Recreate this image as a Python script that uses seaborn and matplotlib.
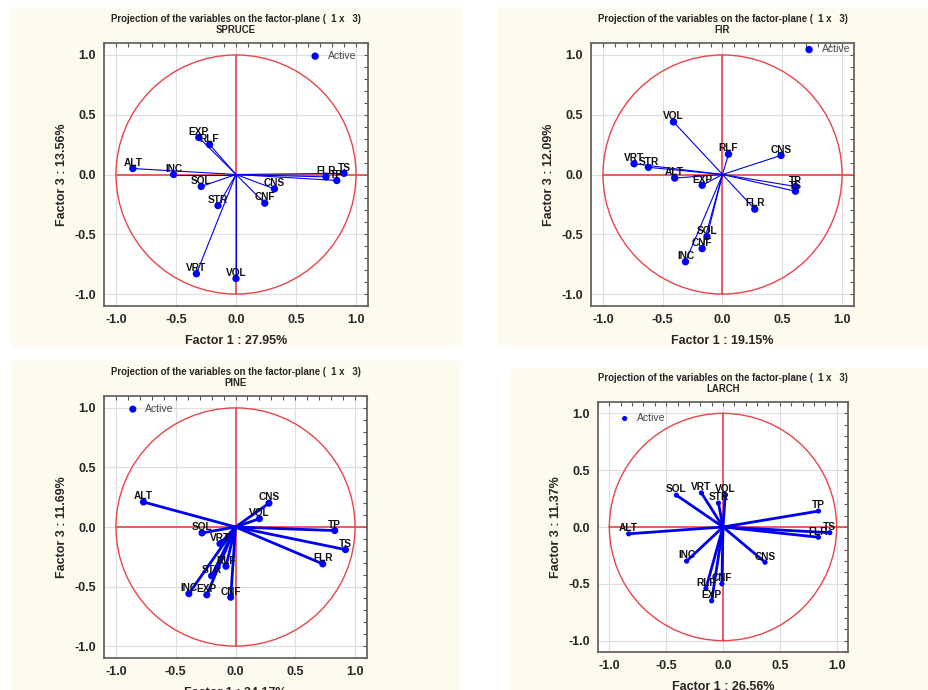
import pandas as pd
import seaborn as sns
import matplotlib.pyplot as plt
from matplotlib.patches import Rectangle, Circle
from matplotlib.ticker import MultipleLocator

# variables (same order in every panel)
variables = ['ALT', 'INC', 'EXP', 'RLF', 'SOL', 'STR', 'VRT', 'VOL', 'CNS', 'CNF', 'FLR', 'TP', 'TS']

# factor coordinates
spruce_f1 = [-0.86, -0.52, -0.31, -0.22, -0.29, -0.15, -0.33, 0.00, 0.32, 0.24, 0.75, 0.84, 0.90]
spruce_f3 = [0.05, 0.00, 0.31, 0.25, -0.10, -0.26, -0.83, -0.87, -0.12, -0.24, -0.02, -0.05, 0.01]

fir_f1 = [-0.40, -0.31, -0.17, 0.05, -0.13, -0.62, -0.74, -0.41, 0.49, -0.17, 0.27, 0.61, 0.61]
fir_f3 = [-0.03, -0.73, -0.09, 0.17, -0.52, 0.06, 0.09, 0.44, 0.16, -0.62, -0.29, -0.10, -0.14]

pine_f1 = [-0.77, -0.39, -0.24, -0.08, -0.28, -0.20, -0.13, 0.20, 0.28, -0.04, 0.73, 0.83, 0.92]
pine_f3 = [0.21, -0.56, -0.57, -0.33, -0.05, -0.41, -0.14, 0.07, 0.20, -0.59, -0.31, -0.03, -0.19]

larch_f1 = [-0.83, -0.32, -0.10, -0.15, -0.41, -0.04, -0.19, 0.02, 0.37, -0.01, 0.84, 0.84, 0.94]
larch_f3 = [-0.06, -0.30, -0.65, -0.54, 0.28, 0.21, 0.30, 0.28, -0.31, -0.50, -0.09, 0.14, -0.05]

species = ['SPRUCE', 'FIR', 'PINE', 'LARCH']
pct_f1 = [27.95, 19.15, 24.17, 26.56]
pct_f3 = [13.56, 12.09, 11.69, 11.37]

sns.set_style('white')
plt.rcParams['font.family'] = ['Liberation Sans', 'DejaVu Sans']
plt.rcParams['axes.unicode_minus'] = False

W, H = 929, 690
fig = plt.figure(figsize=(W / 100, H / 100), dpi=100)
fig.patch.set_facecolor('white')

cream = '#fefaee'
red = '#e8454b'

# panel backgrounds (pixel boxes: x0, y0, x1, y1)
panels = [(11, 8, 461, 346), (497, 8, 929, 346), (12, 361, 459, 690), (510, 369, 929, 690)]
# axes boxes in pixels
axboxes = [(104, 43, 368, 306), (591, 43, 854, 306), (104, 396, 367, 658), (598, 402, 848, 652)]
line_w = [0.8, 0.8, 2.0, 2.0]
dot_s = [28, 28, 26, 14]
leg = [('upper right', (0.955, 0.97)), ('upper right', (0.985, 0.995)),
       ('upper left', (0.07, 0.97)), ('upper left', (0.065, 0.955))]

data = [(spruce_f1, spruce_f3), (fir_f1, fir_f3), (pine_f1, pine_f3), (larch_f1, larch_f3)]

for x0, y0, x1, y1 in panels:
    fig.patches.append(Rectangle((x0 / W, 1 - y1 / H), (x1 - x0) / W, (y1 - y0) / H,
                                 transform=fig.transFigure, color=cream, zorder=-5))

for i, name in enumerate(species):
    x0, y0, x1, y1 = axboxes[i]
    ax = fig.add_axes([x0 / W, 1 - y1 / H, (x1 - x0) / W, (y1 - y0) / H])
    df = pd.DataFrame({'var': variables, 'f1': data[i][0], 'f3': data[i][1]})

    ax.set_xlim(-1.1, 1.1)
    ax.set_ylim(-1.1, 1.1)
    ax.set_facecolor('white')
    ax.grid(True, color='#dedede', lw=0.8, zorder=0)
    ax.xaxis.set_major_locator(MultipleLocator(0.5))
    ax.yaxis.set_major_locator(MultipleLocator(0.5))
    ax.xaxis.set_minor_locator(MultipleLocator(0.1))
    ax.yaxis.set_minor_locator(MultipleLocator(0.1))
    ax.tick_params(which='both', direction='in', top=True, right=True, length=3,
                   width=0.8, color='#555555', labelsize=9, pad=6)
    for lab in ax.get_xticklabels() + ax.get_yticklabels():
        lab.set_fontweight('bold')
    for sp in ax.spines.values():
        sp.set_color('#666666')
        sp.set_linewidth(1.3)

    # unit circle and cross
    ax.add_patch(Circle((0, 0), 1, fill=False, ec=red, lw=1.0, zorder=1))
    ax.plot([-1, 1.1], [0, 0], color=red, lw=1.2, zorder=1)
    ax.plot([0, 0], [-1, 1], color=red, lw=1.2, zorder=1)

    # vectors from origin
    for _, r in df.iterrows():
        ax.plot([0, r['f1']], [0, r['f3']], color='#0000ee', lw=line_w[i], zorder=2,
                solid_capstyle='round')

    sns.scatterplot(data=df, x='f1', y='f3', ax=ax, color='#0000ff', s=dot_s[i],
                    edgecolor='none', label='Active', zorder=3)

    for _, r in df.iterrows():
        ax.annotate(r['var'], (r['f1'], r['f3']), xytext=(0, 0.5), textcoords='offset points',
                    ha='center', va='bottom', fontsize=7.3, fontweight='bold', color='#111111',
                    zorder=4)

    ax.legend(loc=leg[i][0], bbox_to_anchor=leg[i][1], frameon=False, fontsize=7.5,
              handletextpad=0.2, borderaxespad=0, borderpad=0, labelcolor='#444444')

    ax.set_xlabel(f'Factor 1 : {pct_f1[i]:.2f}%', fontsize=9, fontweight='bold', labelpad=6)
    ax.set_ylabel(f'Factor 3 : {pct_f3[i]:.2f}%', fontsize=9, fontweight='bold', labelpad=4)
    ax.set_title(f'Projection of the variables on the factor-plane (  1 x   3)\n{name}',
                 fontsize=6.9, fontweight='bold', pad=7, linespacing=1.15)

plt.savefig('out.png', dpi=100, facecolor='white')
